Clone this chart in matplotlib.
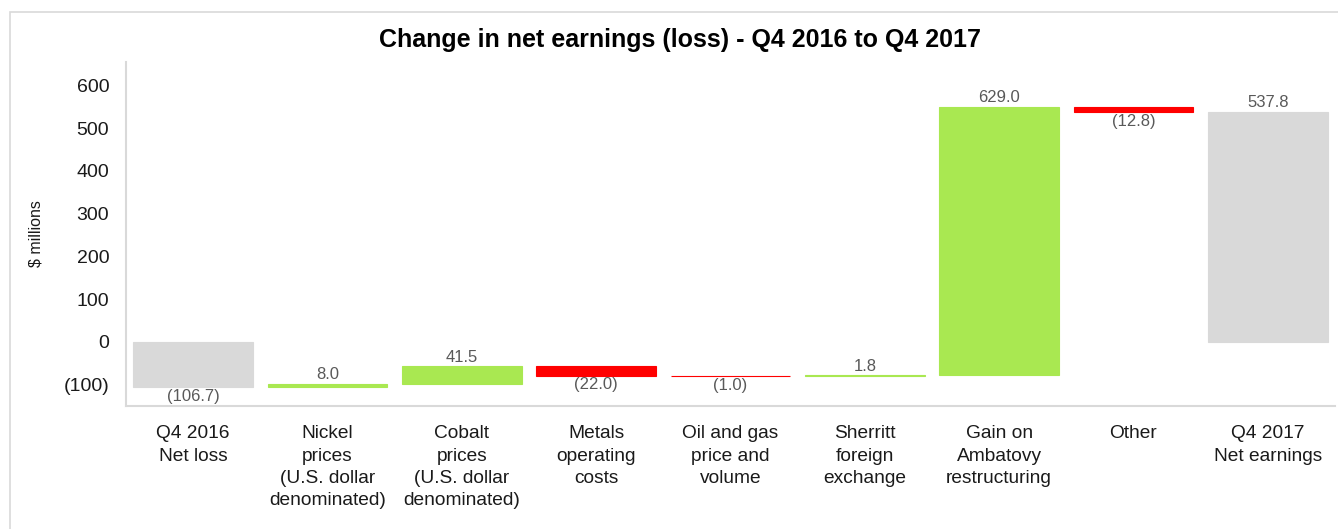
import matplotlib.pyplot as plt
from matplotlib.patches import Rectangle
from matplotlib.ticker import FuncFormatter

plt.rcParams['font.family'] = ['Liberation Sans', 'DejaVu Sans']

categories = [
    "Q4 2016\nNet loss",
    "Nickel\nprices\n(U.S. dollar\ndenominated)",
    "Cobalt\nprices\n(U.S. dollar\ndenominated)",
    "Metals\noperating\ncosts",
    "Oil and gas\nprice and\nvolume",
    "Sherritt\nforeign\nexchange",
    "Gain on\nAmbatovy\nrestructuring",
    "Other",
    "Q4 2017\nNet earnings",
]
# first and last are totals, the rest are changes
values = [-106.7, 8.0, 41.5, -22.0, -1.0, 1.8, 629.0, -12.8, 537.8]
labels = ["(106.7)", "8.0", "41.5", "(22.0)", "(1.0)", "1.8", "629.0", "(12.8)", "537.8"]

green = "#A9E851"
red = "#FF0000"
grey = "#D9D9D9"

fig = plt.figure(figsize=(13.38, 5.29), dpi=100)
ax = fig.add_axes([126 / 1338, 1 - 406 / 529, 1209 / 1338, 344 / 529])

# light frame round the whole chart
fig.patches.append(Rectangle((10 / 1338, -0.1), 1.2, 1 - 12 / 529 + 0.1,
                             transform=fig.transFigure, fill=False,
                             edgecolor="#D9D9D9", linewidth=1.2))

running = 0.0
for i, v in enumerate(values):
    if i == 0 or i == len(values) - 1:
        bottom, height, color = 0, v, grey
        running = v
    else:
        bottom, height = running, v
        color = green if v > 0 else red
        running += v
    ax.bar(i, height, bottom=bottom, width=0.89, color=color,
           edgecolor=color, linewidth=0.8)
    top = max(bottom, bottom + height)
    low = min(bottom, bottom + height)
    if v > 0:
        ax.text(i, top + 4, labels[i], ha="center", va="bottom",
                fontsize=12, color="#595959")
    else:
        ax.text(i, low - 4, labels[i], ha="center", va="top",
                fontsize=12, color="#595959")

ax.set_xlim(-0.5, len(values) - 0.5)
ax.set_ylim(-150, 655)
ax.set_yticks(range(-100, 700, 100))
ax.yaxis.set_major_formatter(FuncFormatter(
    lambda y, _: f"({abs(int(y))})" if y < 0 else f"{int(y)}"))
ax.set_xticks(range(len(categories)))
ax.set_xticklabels(categories, fontsize=13.8, linespacing=1.4, color="#1a1a1a")
ax.tick_params(axis="both", length=0, colors="#1a1a1a")
ax.tick_params(axis="y", labelsize=14, pad=12)
ax.tick_params(axis="x", pad=14)

for s in ["top", "right"]:
    ax.spines[s].set_visible(False)
for s in ["left", "bottom"]:
    ax.spines[s].set_color("#D9D9D9")
    ax.spines[s].set_linewidth(1.5)

ax.set_ylabel("$ millions", fontsize=11.5, color="#1a1a1a")
ax.yaxis.set_label_coords(-82 / 1209, 0.5)

fig.text(680 / 1338, 1 - 40 / 529, "Change in net earnings (loss) - Q4 2016 to Q4 2017",
         ha="center", va="center", fontsize=18, fontweight="bold")

fig.savefig("out.png", dpi=100)
